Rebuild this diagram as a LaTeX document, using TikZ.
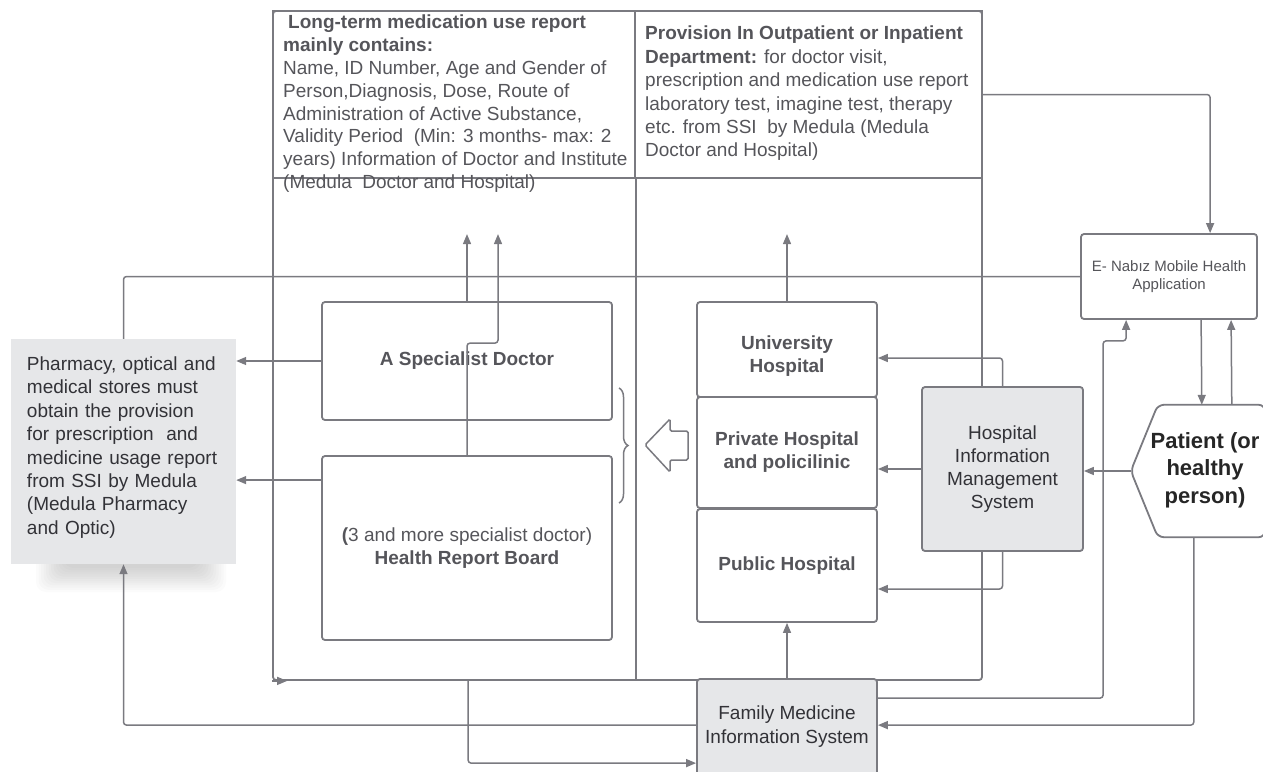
\documentclass[tikz,border=0pt]{standalone}
\usepackage{fontspec}
\setmainfont{Liberation Sans}
\usetikzlibrary{arrows.meta,decorations.pathreplacing,calc}
\definecolor{lc}{RGB}{122,122,128}
\definecolor{tc}{RGB}{85,85,90}
\definecolor{dc}{RGB}{50,50,55}
\definecolor{gf}{RGB}{230,231,233}
\newcommand\myfs[2]{\fontsize{#1pt}{#2pt}\selectfont}
\begin{document}
\begin{tikzpicture}[x=1pt,y=-1pt,
  boxline/.style={draw=lc, line width=1.8pt},
  box/.style={boxline, rounded corners=3pt, inner sep=0pt, text=tc, font=\myfs{19}{23}\bfseries, align=center},
  graybox/.style={box, fill=gf, text=dc, font=\myfs{19}{23}},
  plain/.style={draw=lc, line width=1.5pt, rounded corners=3pt},
  conn/.style={plain, -{Triangle[length=10pt,width=8pt]}},
  note/.style={inner sep=0pt, anchor=north west, align=left, text=tc, font=\myfs{19}{22.8}}
]
\useasboundingbox (0,0) rectangle (1263,771);
\clip (0,0) rectangle (1263,771);

% outer frame
\node[boxline, rounded corners=3pt, minimum width=709pt, minimum height=669pt, inner sep=0pt] (frame) at (627.5,345.5) {};
\node[boxline, minimum width=362pt, minimum height=167pt, inner sep=0pt] (topL) at (454,94.5) {};
\node[boxline, minimum width=347pt, minimum height=167pt, inner sep=0pt] (topR) at (808.5,94.5) {};
\draw[boxline] (topL.south east) -- (topL.south east |- frame.south);
\draw[draw=lc, line width=1.5pt, -{Triangle[length=10pt,width=8pt]}] (frame.south west) -- ++(15,0);

\node[note] (topLtext) at (283,15) {\hspace*{5pt}\textbf{Long-term medication use report}\\
\textbf{mainly contains:}\\
Name, ID Number, Age and Gender of\\
Person,Diagnosis, Dose, Route of\\
Administration of Active Substance,\\
Validity Period\ \ (Min: 3 months- max: 2\\
years) Information of Doctor and Institute\\
(Medula\ \ Doctor and Hospital)};

\node[note, font=\myfs{19}{23.4}] (topRtext) at (645,26) {\textbf{Provision In Outpatient or Inpatient}\\
\textbf{Department:} for doctor visit,\\
prescription and medication use report\\
laboratory test, imagine test, therapy\\
etc. from SSI\ \ by Medula (Medula\\
Doctor and Hospital)};

% pharmacy with soft shadow
\foreach \i in {0,...,11}
  \fill[black, opacity=0.014, rounded corners=10pt] (36+\i*2.5,540) rectangle (226-\i*2.5,592-\i*2.2);
\node[fill=gf, minimum width=225pt, minimum height=225pt, inner sep=0pt] (pharm) at (123.5,451.5) {};
\node[inner sep=0pt, text width=195pt, align=left, text=dc, font=\myfs{19}{23.4}] (pharmtext) at (124.5,447.5) {Pharmacy, optical and\\
medical stores must\\
obtain the provision\\
for prescription\ \ and\\
medicine usage report\\
from SSI by Medula\\
(Medula Pharmacy\\
and Optic)};

% doctor boxes
\node[box, minimum width=290pt, minimum height=118pt] (spec) at (467,361) {A Specialist Doctor};
\node[box, minimum width=290pt, minimum height=184pt] (hrb) at (467,548) {\textbf{(}\mdseries 3 and more specialist doctor)\\ Health Report Board};

% hospitals
\node[box, fill=white, minimum width=180pt, minimum height=95pt,
  label={[align=center, text=tc, font=\myfs{19}{23}\bfseries, yshift=-7pt]center:University\\Hospital}] (univ) at (787,349.5) {};
\node[box, fill=white, minimum width=180pt, minimum height=111pt] (priv) at (787,452.5) {Private Hospital\\and policilinic};
\node[box, fill=white, minimum width=180pt, minimum height=113pt] (pub) at (787,565.5) {Public Hospital};

\node[graybox, minimum width=161pt, minimum height=164pt] (hims) at (1002.5,469) {Hospital\\Information\\Management\\System};
\node[graybox, minimum width=180pt, minimum height=96pt, font=\myfs{19}{24}] (fm) at (787,727) {Family Medicine\\Information System};
\node[box, fill=white, minimum width=176pt, minimum height=85pt, font=\myfs{15}{18}, text=tc] (enabiz) at (1169,276.5) {E- Nabız Mobile Health\\Application};

% patient
\node[minimum width=106.5pt, minimum height=132pt, inner sep=0pt] (patientbox) at (1211.25,471) {};
\draw[boxline, rounded corners=6pt] (patientbox.north east) -- (patientbox.north west) -- ([xshift=-27pt]patientbox.west) -- (patientbox.south west) -- (patientbox.south east) -- cycle;
\node[inner sep=0pt, align=center, text=black!85, font=\myfs{22}{27.5}\bfseries] (patient) at (1205,470) {Patient (or\\healthy\\person)};
\coordinate (ptip) at ([xshift=-27pt]patientbox.west);

% brace and block arrow
\draw[draw=lc, line width=1.5pt, decorate, decoration={brace, amplitude=9pt}] (619,388) -- (619,503);
\draw[draw=lc, line width=1.5pt, fill=white, rounded corners=1.5pt] (645,445) -- (670,419) -- (670,431) -- (688,431) -- (688,460) -- (670,460) -- (670,472) -- cycle;

% connectors
\draw[conn] (topR.east) -| ($(enabiz.north west)+(130,0)$);
\draw[plain] (enabiz.west) -| (pharm.north);
\draw[conn] ($(enabiz.south west)+(121,0)$) -- ($(patientbox.north west)+(44,0)$);
\draw[conn] ($(patientbox.north west)+(74,0)$) -- ($(enabiz.south west)+(151,0)$);
\draw[conn] (ptip) -- (ptip -| hims.east);
\draw[conn] ($(patientbox.south west)+(36,0)$) |- ($(fm.north east)+(0,47)$);
\draw[conn] ($(fm.north east)+(0,20)$) -| ($(enabiz.south west)+(23,21)$) -| ($(enabiz.south west)+(46,0)$);
\draw[conn] (hims.north) |- ($(univ.east)+(0,8.5)$);
\draw[conn] (hims.west) -- (hims.west -| priv.east);
\draw[conn] (hims.south) |- ($(pub.east)+(0,23.5)$);
\draw[conn] (fm.north) -- (pub.south);
\draw[conn] (univ.north) -- ++(0,-67);
\draw[conn] (spec.north) -- ++(0,-67);
\draw[conn] (hrb.north) -- ++(0,-112) -| ($(spec.north)+(31,-67)$);
\draw[conn] (spec.west) -- (spec.west -| pharm.east);
\coordinate (h1) at ($(hrb.north west)+(0,25)$);
\draw[conn] (h1) -- (h1 -| pharm.east);
\coordinate (f1) at ($(fm.north west)+(0,47)$);
\draw[conn] (f1) -| (pharm.south);
\coordinate (fb) at ($(frame.south west)+(196,0)$);
\draw[conn] (fb) |- ($(fm.north west)+(0,85)$);
\end{tikzpicture}
\end{document}
